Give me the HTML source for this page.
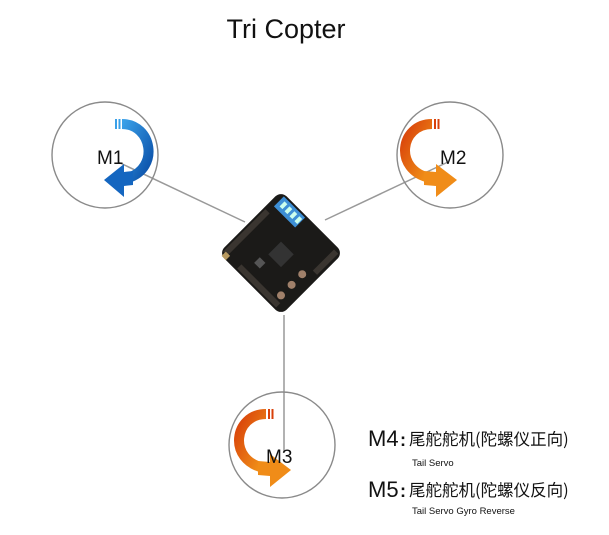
<!DOCTYPE html>
<html><head><meta charset="utf-8"><style>
html,body{margin:0;padding:0;background:#fff;}
body{width:609px;height:535px;overflow:hidden;position:relative;font-family:"Liberation Sans",Arial,sans-serif;}
</style></head><body>
<svg width="609" height="535" viewBox="0 0 609 535" xmlns="http://www.w3.org/2000/svg" style="position:absolute;left:0;top:0">
<defs>
<linearGradient id="bl" x1="0" y1="0" x2="1" y2="1"><stop offset="0" stop-color="#3aa0e8"/><stop offset="1" stop-color="#0a4fa8"/></linearGradient>
<linearGradient id="or" x1="0" y1="0" x2="1" y2="1"><stop offset="0" stop-color="#d8400a"/><stop offset="1" stop-color="#f39a1a"/></linearGradient>
</defs>
<text x="286" y="38" font-size="27" text-anchor="middle" fill="#111" font-family="Liberation Sans, Arial, sans-serif">Tri Copter</text>
<g stroke="#999" stroke-width="1.5">
<line x1="118" y1="162" x2="245" y2="222"/>
<line x1="448" y1="162" x2="325" y2="220"/>
<line x1="284" y1="315" x2="284" y2="452"/>
</g>
<g fill="none" stroke="#8a8a8a" stroke-width="1.4">
<circle cx="105" cy="155" r="53"/>
<circle cx="450" cy="155" r="53"/>
<circle cx="282" cy="445" r="53"/>
</g>
<path d="M122,124 C152,124 160,168 128,178" fill="none" stroke="url(#bl)" stroke-width="10"/>
<rect x="115" y="119" width="2" height="10" fill="#3aa0e8"/><rect x="118.5" y="119" width="2" height="10" fill="#3aa0e8"/>
<polygon points="133,171 133,185 124,186 124,197 104,180 124,164 124,172" fill="#1466c0"/>
<path d="M432,124 C400,124 393,170 430,178" fill="none" stroke="url(#or)" stroke-width="10"/>
<rect x="434" y="119" width="2" height="10" fill="#d8400a"/><rect x="437.5" y="119" width="2" height="10" fill="#d8400a"/>
<polygon points="424,171 424,185 436,186 436,197 457,180 436,164 436,172" fill="#f08c18"/>
<path d="M266,414 C234,414 227,460 264,468" fill="none" stroke="url(#or)" stroke-width="10"/>
<rect x="268" y="409" width="2" height="10" fill="#d8400a"/><rect x="271.5" y="409" width="2" height="10" fill="#d8400a"/>
<polygon points="258,461 258,475 270,476 270,487 291,470 270,454 270,462" fill="#f08c18"/>
<g font-size="19" fill="#111">
<text x="97" y="164">M1</text>
<text x="440" y="164">M2</text>
<text x="266" y="463">M3</text>
</g>
<g transform="translate(281,253) rotate(45)">
<rect x="-44" y="-44" width="88" height="88" rx="8" fill="#1b1a18"/>
<rect x="-38" y="-42" width="30" height="14" fill="#3d8fd6"/>
<rect x="-34" y="-39" width="4" height="7" fill="#cfe"/><rect x="-27" y="-39" width="4" height="7" fill="#cfe"/><rect x="-20" y="-39" width="4" height="7" fill="#cfe"/><rect x="-13" y="-39" width="4" height="7" fill="#cfe"/>
<rect x="-8" y="-8" width="18" height="18" fill="#333"/>
<rect x="-12" y="18" width="8" height="8" fill="#555"/>
<circle cx="30" cy="30" r="4" fill="#a0806a"/><circle cx="30" cy="15" r="4" fill="#a0806a"/><circle cx="30" cy="0" r="4" fill="#a0806a"/>
<rect x="-42" y="-20" width="6" height="60" fill="#3a3530"/>
<rect x="-20" y="36" width="55" height="6" fill="#3a3530"/>
<rect x="35" y="-40" width="6" height="30" fill="#3a3530"/>
<rect x="-40" y="38" width="6" height="6" fill="#b89a60"/>
</g>
<g fill="#111" font-family="Liberation Sans, Noto Sans CJK SC, sans-serif">
<text x="368" y="446" font-size="22">M4</text>
<text x="400" y="446" font-size="18" font-weight="bold">:</text>
<text x="409" y="445" font-size="16.5" font-family="Noto Sans CJK SC, sans-serif">尾舵舵机(陀螺仪正向)</text>
<text x="412" y="466" font-size="9.5">Tail Servo</text>
<text x="368" y="497" font-size="22">M5</text>
<text x="400" y="497" font-size="18" font-weight="bold">:</text>
<text x="409" y="496" font-size="16.5" font-family="Noto Sans CJK SC, sans-serif">尾舵舵机(陀螺仪反向)</text>
<text x="412" y="514" font-size="9.5">Tail Servo Gyro Reverse</text>
</g>
</svg>
</body></html>
